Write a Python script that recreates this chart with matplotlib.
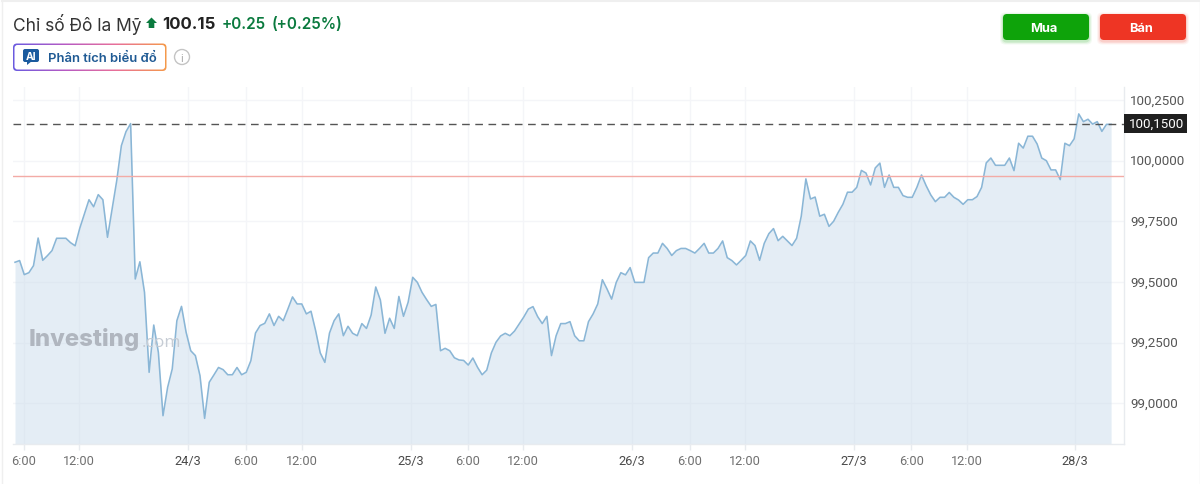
import numpy as np
import matplotlib
matplotlib.use("Agg")
import matplotlib.pyplot as plt
from matplotlib.patches import FancyBboxPatch, Circle, Polygon, Rectangle
from matplotlib.transforms import ScaledTranslation

TITLE = "Chỉ số Đô la Mỹ"
LAST_TXT = "100.15"
CHG_TXT = "+0.25"
PCT_TXT = "(+0.25%)"
AI_TXT = "Phân tích biểu đổ"
BUY_TXT = "Mua"
SELL_TXT = "Bán"

values = [
 99.581,99.588,99.530,99.538,99.567,99.681,99.589,99.608,99.629,99.680,99.680,99.680,99.662,99.649,99.721,99.780,
 99.839,99.810,99.860,99.839,99.684,99.801,99.918,100.062,100.120,100.153,99.512,99.583,99.457,99.127,99.322,99.209,
 98.948,99.065,99.141,99.340,99.399,99.292,99.216,99.196,99.113,98.937,99.086,99.116,99.147,99.138,99.117,99.117,
 99.147,99.117,99.127,99.175,99.289,99.320,99.329,99.368,99.320,99.358,99.340,99.388,99.438,99.409,
 99.409,99.368,99.379,99.299,99.207,99.168,99.289,99.340,99.368,99.278,99.317,99.288,99.278,99.328,99.308,99.363,
 99.479,99.425,99.288,99.350,99.308,99.440,99.358,99.416,99.519,99.498,99.457,99.427,99.399,99.407,99.216,99.226,
 99.216,99.187,99.178,99.176,99.157,99.186,99.148,99.117,99.136,99.207,99.251,99.277,99.288,99.278,99.297,99.326,
 99.355,99.388,99.398,99.357,99.328,99.358,99.196,99.278,99.328,99.328,99.336,99.278,99.257,99.257,99.336,99.368,99.409,
 99.509,99.471,99.429,99.498,99.538,99.529,99.559,99.498,99.498,99.498,99.600,99.619,99.619,99.659,99.638,99.609,
 99.629,99.638,99.638,99.629,99.619,99.638,99.659,99.619,99.619,99.638,99.669,99.600,99.588,99.570,99.589,99.609,
 99.669,99.650,99.589,99.659,99.699,99.720,99.670,99.688,99.669,99.650,99.680,99.771,99.925,99.842,99.850,99.771,
 99.779,99.729,99.750,99.787,99.820,99.870,99.870,99.890,99.960,99.949,99.900,99.970,99.990,99.890,99.941,99.890,99.890,
 99.856,99.849,99.849,99.890,99.941,99.897,99.859,99.831,99.849,99.849,99.869,99.849,99.838,99.820,99.839,99.839,
 99.852,99.890,99.991,100.011,99.981,99.981,99.981,100.011,99.959,100.072,100.052,100.101,100.101,100.069,100.011,100.000,
 99.962,99.962,99.922,100.072,100.062,100.090,100.193,100.161,100.171,100.151,100.161,100.121,100.150,100.150,
]
last_price = 100.15
prev_level = 99.937

y_ticks = [99.0, 99.25, 99.5, 99.75, 100.0, 100.25]
y_labels = ["99,0000", "99,2500", "99,5000", "99,7500", "100,0000", "100,2500"]
x_ticks = [1.84, 13.84, 37.3, 49.84, 61.95, 85.56, 97.95, 109.84, 133.4, 145.84, 157.84, 181.4, 193.8, 205.8, 229.2]
x_labels = ["6:00", "12:00", "24/3", "6:00", "12:00", "25/3", "6:00", "12:00", "26/3", "6:00", "12:00", "27/3", "6:00", "12:00", "28/3"]
x_index = np.arange(len(values))

W, H = 1200, 485
SANS = "Inter"
AX = "Roboto"
plt.rcParams["font.family"] = [SANS, "DejaVu Sans"]
fig = plt.figure(figsize=(W / 100, H / 100), dpi=100, facecolor="white")

# ---- chart area
L, R, T, B = 13, 1124, 88, 445
ax = fig.add_axes([L / W, 1 - B / H, (R - L) / W, (B - T) / H])
xlim = ((L - 15) / 4.625, (R - 15) / 4.625)
ylim = (100 + (161.7 - B) / 242.4, 100 + (161.7 - T) / 242.4)
ax.set_xlim(*xlim)
ax.set_ylim(*ylim)
ax.set_axisbelow(True)
ax.grid(True, color="#f4f5f8", lw=1)
ax.fill_between(x_index, values, ylim[0], color="#cbdcec", alpha=0.5, lw=0, zorder=2)
ax.plot(x_index, values, color="#8ab6d6", lw=1.15, zorder=3, solid_joinstyle="round")
ax.axhline(prev_level, color="#f3aba6", lw=1, zorder=4)
ax.axhline(last_price, color="#555555", lw=1, dashes=(5.5, 4), zorder=4)

ax.yaxis.tick_right()
ax.set_yticks(y_ticks, y_labels)
ax.set_xticks(x_ticks, x_labels)
ax.tick_params(axis="y", length=0, pad=4.5, labelsize=9.6, labelcolor="#555555", labelfontfamily=AX)
ax.tick_params(axis="x", length=4.5, width=1, color="#e8ebef", pad=2.5, labelsize=9.2, labelcolor="#707070", labelfontfamily=AX)
shift = ScaledTranslation(0, 1.5 / 100, fig.dpi_scale_trans)
for lab in ax.get_yticklabels():
    lab.set_transform(lab.get_transform() + shift)
for lab in ax.get_xticklabels():
    if "/" in lab.get_text():
        lab.set_color("#4a4a4a")
for s in ("top", "left"):
    ax.spines[s].set_visible(False)
for s in ("right", "bottom"):
    ax.spines[s].set_color("#e8ebef")
    ax.spines[s].set_linewidth(1)

# ---- overlay in pixel units for page furniture
ov = fig.add_axes([0, 0, 1, 1], facecolor="none")
ov.set_xlim(0, W)
ov.set_ylim(H, 0)
ov.axis("off")

# page border
ov.plot([1.5, 1.5], [2, H], color="#efefef", lw=1)
ov.plot([1.5, 1199], [1.5, 1.5], color="#efefef", lw=1.5)
ov.plot([1199.5, 1199.5], [2, H], color="#efefef", lw=1)

# watermark
ov.text(29, 340, "Investing", fontfamily="Inter", fontweight="heavy", fontsize=17.2, color="#b0b6bf", va="center", ha="left")
ov.text(142, 343, ".com", fontfamily="Open Sans", fontsize=12.5, color="#c6ccd4", va="center", ha="left")

# price tag
ov.add_patch(Rectangle((1124, 115), 63, 19, color="#1f1f1f", lw=0))
ov.text(1157, 124.5, "100,1500", color="white", fontfamily=AX, fontsize=9.6, ha="center", va="center")

# header
ov.text(13, 24.5, TITLE, fontsize=12.5, color="#333333", va="center", ha="left")
ov.add_patch(Polygon([(146, 24), (151.5, 18.5), (157, 24), (154.3, 24), (154.3, 29), (148.7, 29), (148.7, 24)], color="#0a7a3e", lw=0))
ov.text(162, 24.5, LAST_TXT, fontsize=12.1, fontweight="bold", color="#222222", va="center", ha="left")
ov.text(222, 24.5, CHG_TXT, fontsize=11, fontweight="semibold", color="#0a7a3e", va="center", ha="left")
ov.text(272, 24.5, PCT_TXT, fontsize=11, fontweight="semibold", color="#0a7a3e", va="center", ha="left")

# AI pill with gradient border
outer = FancyBboxPatch((13, 44.5), 153.5, 27.5, boxstyle="round,pad=0,rounding_size=4", transform=ov.transData, lw=0, fc="none")
ov.add_patch(outer)
grad = np.linspace(0, 1, 256).reshape(1, -1)
cmap = matplotlib.colors.LinearSegmentedColormap.from_list("g", ["#6a5be0", "#b65ac4", "#e8709a", "#f59a4a"])
im = ov.imshow(grad, extent=(13, 167, 72.5, 44), cmap=cmap, aspect="auto", zorder=1)
im.set_clip_path(outer)
ov.set_xlim(0, W)
ov.set_ylim(H, 0)
ov.add_patch(FancyBboxPatch((14.5, 46), 150.5, 24.5, boxstyle="round,pad=0,rounding_size=3", fc="white", lw=0, zorder=2))
ov.add_patch(FancyBboxPatch((23, 50), 16, 13, boxstyle="round,pad=0,rounding_size=2", fc="#1a5a9e", lw=0, zorder=3))
ov.add_patch(Polygon([(27, 62), (32, 62), (27, 66)], color="#1a5a9e", lw=0, zorder=3))
ov.text(31, 56.7, "AI", color="white", fontsize=7.5, fontweight="bold", ha="center", va="center", zorder=4)
ov.text(48, 59, AI_TXT, color="#1f5a94", fontsize=9.4, fontweight="semibold", ha="left", va="center", zorder=4)
ov.add_patch(Circle((182, 58), 7.5, fc="white", ec="#c4c4c4", lw=1, zorder=3))
ov.text(182, 58.5, "i", color="#a8a8a8", fontsize=8, ha="center", va="center", zorder=4)

# buttons
for x0, col, shadow, txt in ((1003, "#0ea30a", "#0ea30a", BUY_TXT), (1100, "#ee3524", "#ee3524", SELL_TXT)):
    for grow, a in ((3, 0.05), (2, 0.08), (1, 0.12)):
        ov.add_patch(FancyBboxPatch((x0 - grow, 15 - grow + 1.5), 86 + 2 * grow, 26 + 2 * grow,
                                    boxstyle="round,pad=0,rounding_size=5", fc=shadow, alpha=a, lw=0, zorder=2))
    ov.add_patch(FancyBboxPatch((x0, 15), 86, 26, boxstyle="round,pad=0,rounding_size=4", fc=col, lw=0, zorder=3))
    ov.text(x0 + 41, 28.5, txt, color="white", fontsize=9.2, fontweight="bold", ha="center", va="center", zorder=4)

fig.savefig("out.png", dpi=100, facecolor="white")
